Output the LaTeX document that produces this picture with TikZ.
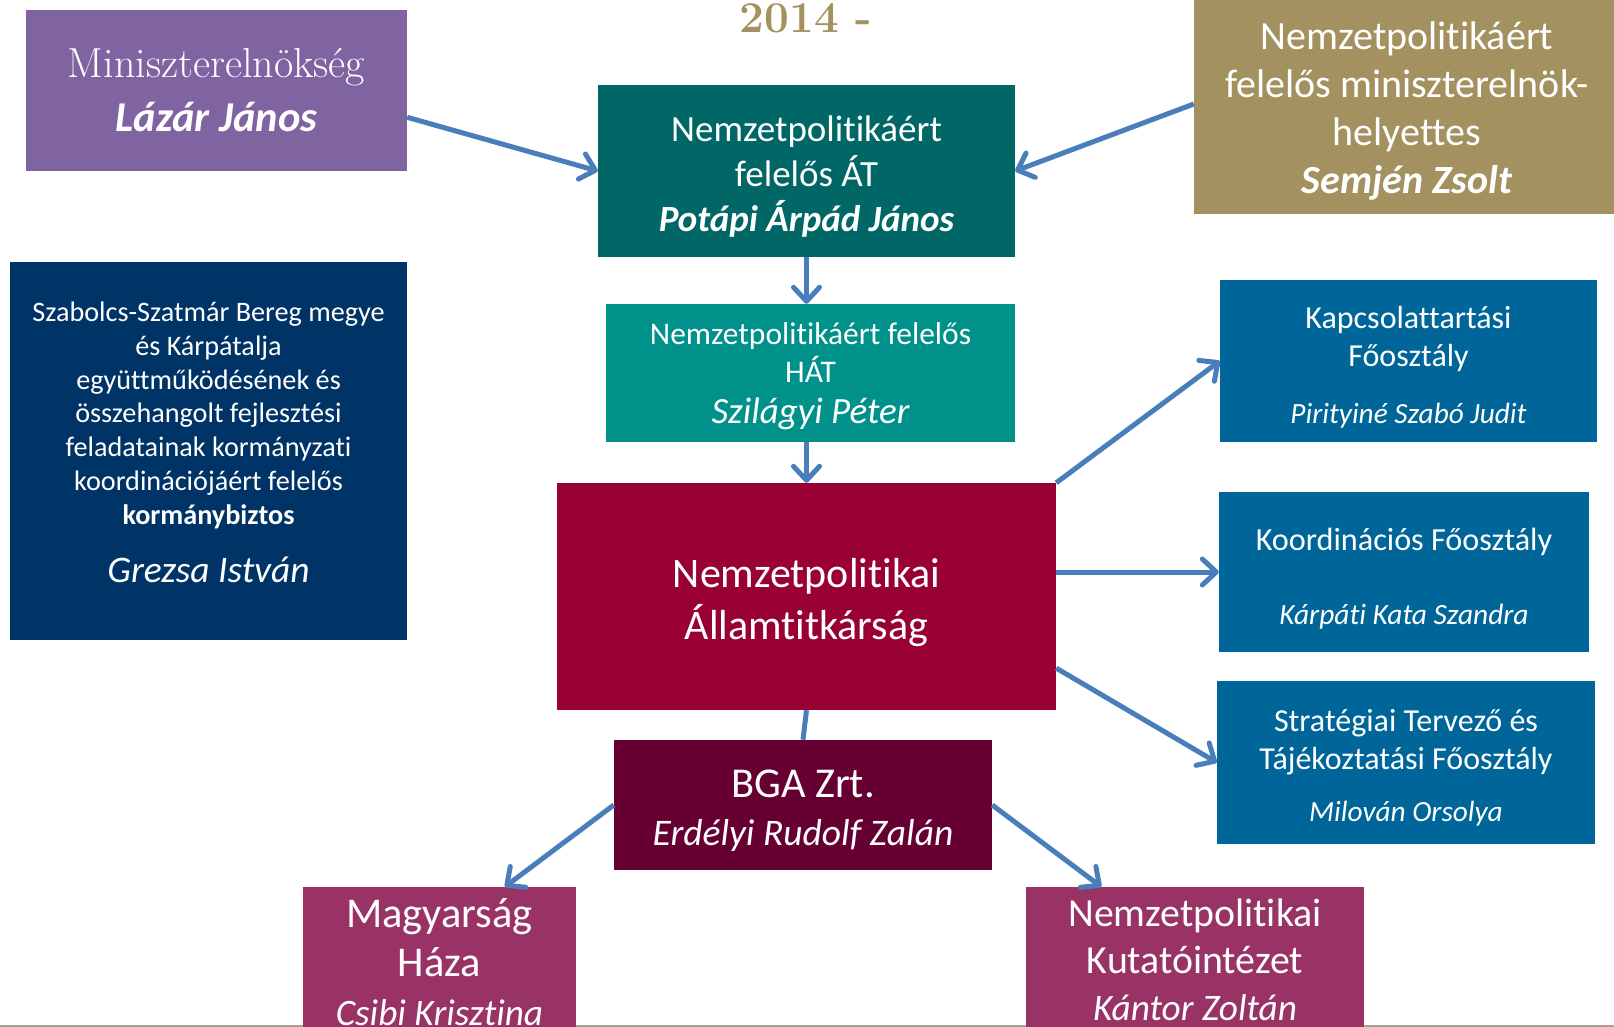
\documentclass[tikz,border=0pt]{standalone}
\usepackage{fontspec}
\newfontfamily\calibri[Ligatures=NoCommon]{Carlito}
\usetikzlibrary{arrows.meta}

\definecolor{minisc}{HTML}{8064A2}
\definecolor{tanc}{HTML}{A3915F}
\definecolor{potc}{HTML}{006666}
\definecolor{hatc}{HTML}{00918A}
\definecolor{grezc}{HTML}{003366}
\definecolor{allac}{HTML}{990033}
\definecolor{osztc}{HTML}{006699}
\definecolor{bgac}{HTML}{660033}
\definecolor{intc}{HTML}{993366}
\definecolor{arrowc}{HTML}{4A7EBB}
\definecolor{linec}{HTML}{A5A28B}

\begin{document}
\begin{tikzpicture}[x=1pt, y=-1pt, >={Straight Barb[length=14pt,width=26pt,round]},
  bx/.style={fill=#1, text=white, inner sep=0pt, align=center},
  c/.style={->, line width=5pt, draw=arrowc}]

  \useasboundingbox (0,0) rectangle (1614,1027);
  \draw[linec, line width=1.5pt] (0,1026) -- (1614,1026);

  \node[text=tanc, anchor=base, font=\rmfamily\bfseries\fontsize{44}{44}\selectfont] (year) at (806,33) {2014 -};

  % felso sor
  \node[bx=minisc, minimum width=381pt, minimum height=161pt, font=\calibri\fontsize{42.5}{54}\selectfont] (minis) at (216.5,90.5)
    {{\rmfamily\fontsize{42}{44}\selectfont Miniszterelnökség}\\ {\bfseries\itshape Lázár János}};
  \node[bx=tanc, minimum width=426pt, minimum height=220pt, font=\calibri\fontsize{40}{48}\selectfont] (semjen) at (1407,104)
    {\rule{0pt}{42pt}Nemzetpolitikáért\\ felelős miniszterelnök-\\ helyettes\\ {\bfseries\itshape Semjén Zsolt}};
  \node[bx=potc, minimum width=417pt, minimum height=172pt, font=\calibri\fontsize{37}{45}\selectfont] (pot) at (806.5,171)
    {\rule{0pt}{36pt}Nemzetpolitikáért\\ felelős ÁT\\ {\bfseries\itshape Potápi Árpád János}};

  \node[bx=hatc, minimum width=409pt, minimum height=138pt, font=\calibri\fontsize{31.5}{38}\selectfont] (hat) at (810.5,373)
    {\rule{0pt}{29pt}Nemzetpolitikáért felelős\\ HÁT\\[3pt] {\itshape\fontsize{37}{40}\selectfont Szilágyi Péter}};
  \node[bx=grezc, minimum width=397pt, minimum height=378pt, font=\calibri\fontsize{28.2}{33.8}\selectfont] (grez) at (208.5,451)
    {Szabolcs-Szatmár Bereg megye\\ és Kárpátalja\\ együttműködésének és\\ összehangolt fejlesztési\\
     feladatainak kormányzati\\ koordinációjáért felelős\\ {\bfseries kormánybiztos}\\[24pt]
     {\itshape\fontsize{37.5}{40}\selectfont Grezsa István}\rule[-18pt]{0pt}{0pt}};
  \node[bx=allac, minimum width=499pt, minimum height=227pt, font=\calibri\fontsize{42}{52}\selectfont] (alla) at (806.5,596.5)
    {\rule{0pt}{42pt}Nemzetpolitikai\\ Államtitkárság};

  % foosztalyok
  \node[bx=osztc, minimum width=377pt, minimum height=162pt, font=\calibri\fontsize{32}{38}\selectfont] (kapcs) at (1408.5,361)
    {\rule{0pt}{34pt}Kapcsolattartási\\ Főosztály\\[19pt] {\itshape\fontsize{29.3}{34}\selectfont Pirityiné Szabó Judit}};
  \node[bx=osztc, minimum width=370pt, minimum height=160pt, font=\calibri\fontsize{32.2}{38}\selectfont] (koord) at (1404,572)
    {\rule{0pt}{36pt}Koordinációs Főosztály\\[36pt] {\itshape\fontsize{29.4}{34}\selectfont Kárpáti Kata Szandra}};
  \node[bx=osztc, minimum width=378pt, minimum height=163pt, font=\calibri\fontsize{32}{38}\selectfont] (strat) at (1406,762.5)
    {\rule{0pt}{32pt}Stratégiai Tervező és\\ Tájékoztatási Főosztály\\[14pt] {\itshape\fontsize{29.3}{34}\selectfont Milován Orsolya}};

  % also sor
  \node[bx=bgac, minimum width=378pt, minimum height=130pt, font=\calibri\fontsize{37.5}{48}\selectfont] (bga) at (803,805)
    {\rule{0pt}{40pt}{\fontsize{42.5}{44}\selectfont BGA Zrt.}\\ {\itshape Erdélyi Rudolf Zalán}};
  \node[bx=intc, minimum width=273pt, minimum height=150pt, font=\calibri\fontsize{42.4}{49}\selectfont] (magy) at (439.5,962)
    {Magyarság\\ Háza\\ {\itshape\fontsize{37.3}{40}\selectfont Csibi Krisztina}};
  \node[bx=intc, minimum width=338pt, minimum height=146pt, font=\calibri\fontsize{39.8}{47}\selectfont] (kut) at (1195,960)
    {Nemzetpolitikai\\ Kutatóintézet\\ {\itshape\fontsize{37.3}{40}\selectfont Kántor Zoltán}};

  % nyilak
  \draw[c] (minis.-8) -- (pot.west);
  \draw[c] (semjen.west) -- (pot.east);
  \draw[c] (pot.south) -- (pot.south |- hat.north);
  \draw[c] (alla.north |- hat.south) -- (alla.north);
  \draw[c] (alla.north east) -- (kapcs.west);
  \draw[c] (koord.west -| alla.east) -- (koord.west);
  \draw[c] (alla.-16.6) -- (strat.west);
  \draw[c, -] (alla.south) -- (bga.north);
  \draw[c] (bga.west) -- (magy.49);
  \draw[c] (bga.east) -- (kut.142);

\end{tikzpicture}
\end{document}
